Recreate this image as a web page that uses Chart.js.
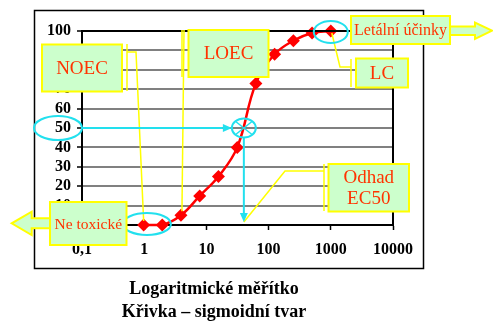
<!DOCTYPE html>
<html><head><meta charset="utf-8">
<script src="https://cdn.jsdelivr.net/npm/chart.js@4"></script>
<style>html,body{margin:0;padding:0;background:#fff;}canvas{display:block}</style>
</head><body>
<canvas id="c" width="493" height="321"></canvas>
<script>
// ---- data ----
const concentrations = [0.98, 1.95, 3.9, 7.8, 15.6, 31.3, 62.5, 125, 250, 500, 1000];
const effectPct      = [0, 0, 5, 15, 25, 40, 73, 88, 95, 99, 100];
const xTickValues = [0.1, 1, 10, 100, 1000, 10000];
const xTickLabels = ['0,1', '1', '10', '100', '1000', '10000'];
const yTickValues = [0, 10, 20, 30, 40, 50, 60, 70, 80, 90, 100];
const titleLines = ['Logaritmické měřítko', 'Křivka – sigmoidní tvar'];
const ec50Estimate = { x: 40, y: 50 };
const labelNOEC = 'NOEC', labelLOEC = 'LOEC', labelLC = 'LC', labelLethal = 'Letální účinky';
const labelNonToxic = 'Ne toxické', labelEC50 = ['Odhad', 'EC50'];

// ---- styles ----
const SERIF = "'Liberation Serif', 'DejaVu Serif', serif";
const RED = '#FF0000', TXT = '#FF3300', CYAN = '#22E0EE', YEL = '#FFFF00', GREEN = '#CCFFCC';

function box(ctx, x, y, w, h, lines, size) {
  ctx.save();
  ctx.fillStyle = GREEN; ctx.fillRect(x, y, w, h);
  ctx.strokeStyle = YEL; ctx.lineWidth = 2; ctx.strokeRect(x, y, w, h);
  ctx.fillStyle = TXT; ctx.font = size + 'px ' + SERIF;
  ctx.textAlign = 'center'; ctx.textBaseline = 'middle';
  const lh = size * 1.1, n = lines.length;
  lines.forEach((t, i) => ctx.fillText(t, x + w / 2, y + h / 2 + (i - (n - 1) / 2) * lh + 1));
  ctx.restore();
}
function poly(ctx, pts, color, lw, fill) {
  ctx.save(); ctx.beginPath();
  pts.forEach((p, i) => i ? ctx.lineTo(p[0], p[1]) : ctx.moveTo(p[0], p[1]));
  if (fill) { ctx.closePath(); ctx.fillStyle = fill; ctx.fill(); }
  ctx.strokeStyle = color; ctx.lineWidth = lw; ctx.lineJoin = 'miter'; ctx.stroke(); ctx.restore();
}
function ellipse(ctx, cx, cy, rx, ry) {
  ctx.save(); ctx.beginPath(); ctx.ellipse(cx, cy, rx, ry, 0, 0, Math.PI * 2);
  ctx.strokeStyle = CYAN; ctx.lineWidth = 2; ctx.stroke(); ctx.restore();
}
function arrowLine(ctx, x1, y1, x2, y2) {
  ctx.save(); ctx.strokeStyle = CYAN; ctx.fillStyle = CYAN; ctx.lineWidth = 2;
  const a = Math.atan2(y2 - y1, x2 - x1), L = 9, W = 4;
  const bx = x2 - L * Math.cos(a), by = y2 - L * Math.sin(a);
  ctx.beginPath(); ctx.moveTo(x1, y1); ctx.lineTo(bx, by); ctx.stroke();
  ctx.beginPath(); ctx.moveTo(x2, y2);
  ctx.lineTo(bx + W * Math.sin(a), by - W * Math.cos(a));
  ctx.lineTo(bx - W * Math.sin(a), by + W * Math.cos(a));
  ctx.closePath(); ctx.fill(); ctx.restore();
}

const frame = {
  id: 'frame',
  beforeDraw(chart) {
    const ctx = chart.ctx;
    ctx.save(); ctx.fillStyle = '#fff'; ctx.fillRect(0, 0, chart.width, chart.height);
    ctx.strokeStyle = '#000'; ctx.lineWidth = 1.5; ctx.strokeRect(34.5, 10.5, 389, 258);
    ctx.fillStyle = '#000'; ctx.font = 'bold 18px ' + SERIF; ctx.textAlign = 'center'; ctx.textBaseline = 'middle';
    ctx.fillText(titleLines[0], 214, 289); ctx.fillText(titleLines[1], 214, 312);
    ctx.restore();
  },
  afterDraw(chart) {
    const { ctx, chartArea: ca, scales: { x, y } } = chart;
    poly(ctx, [[ca.left, ca.top], [ca.right, ca.top], [ca.right, ca.bottom]], '#000', 2);

    const px = i => x.getPixelForValue(concentrations[i]);
    const py = i => y.getPixelForValue(effectPct[i]);
    const last = concentrations.length - 1;
    const ex = x.getPixelForValue(ec50Estimate.x), ey = y.getPixelForValue(ec50Estimate.y);
    const y0 = y.getPixelForValue(0);

    // yellow callouts
    poly(ctx, [[127, 44], [127, 91]], YEL, 1.5);
    poly(ctx, [[127, 52], [136, 52], [px(0), py(0) - 4]], YEL, 1.5);
    poly(ctx, [[182, 30], [182, 77]], YEL, 1.5);
    poly(ctx, [[184, 30], [px(2) + 1, py(2) - 4]], YEL, 1.5);
    poly(ctx, [[351, 59], [351, 87]], YEL, 1.5);
    poly(ctx, [[351, 67], [340, 67], [px(last) + 1, py(last) + 2]], YEL, 1.5);
    poly(ctx, [[324, 164], [324, 211]], YEL, 1.5);
    poly(ctx, [[324, 171], [285, 171], [ex, y0 - 3]], YEL, 1.5);

    // cyan marks
    ellipse(ctx, px(last), py(last) + 1, 17, 11);
    ellipse(ctx, 58, ey, 24, 12);
    ellipse(ctx, (px(0) + px(1)) / 2 - 6, py(0) - 1, 24, 11);
    ellipse(ctx, ex, ey, 12, 9.5);
    ctx.save(); ctx.strokeStyle = CYAN; ctx.lineWidth = 1.5; ctx.beginPath();
    const d = Math.SQRT1_2;
    ctx.moveTo(ex - 12 * d, ey - 9.5 * d); ctx.lineTo(ex + 12 * d, ey + 9.5 * d);
    ctx.moveTo(ex + 12 * d, ey - 9.5 * d); ctx.lineTo(ex - 12 * d, ey + 9.5 * d);
    ctx.stroke(); ctx.restore();
    arrowLine(ctx, 82, ey, ex - 12, ey);
    arrowLine(ctx, ex, ey + 9.5, ex, y0 - 3);

    // block arrows
    poly(ctx, [[450, 26.5], [475, 26.5], [475, 22.5], [492, 30.7], [475, 39], [475, 35], [450, 35]], YEL, 2, GREEN);
    poly(ctx, [[50, 218.3], [31.7, 218.3], [31.7, 211.7], [11.7, 223.3], [31.7, 235], [31.7, 228.3], [50, 228.3]], YEL, 2, GREEN);

    // boxes
    box(ctx, 42, 44.5, 80, 47, [labelNOEC], 19);
    box(ctx, 188.5, 30, 80, 47, [labelLOEC], 19);
    box(ctx, 351, 16, 99, 28, [labelLethal], 16);
    box(ctx, 356, 58.5, 52, 29, [labelLC], 19);
    box(ctx, 328.5, 164, 80.5, 47.5, labelEC50, 19);
    box(ctx, 50, 202, 76.5, 43, [labelNonToxic], 15.5);
  }
};

new Chart(document.getElementById('c'), {
  type: 'line',
  data: {
    datasets: [{
      data: concentrations.map((c, i) => ({ x: c, y: effectPct[i] })),
      borderColor: RED, backgroundColor: RED, borderWidth: 2.5,
      pointStyle: 'rectRot', pointRadius: 6.5, pointBorderWidth: 0,
      pointBackgroundColor: RED, tension: 0.4, clip: false
    }]
  },
  options: {
    responsive: false, animation: false, devicePixelRatio: 1,
    layout: { padding: { left: 0, top: 31, right: 100, bottom: 0 } },
    plugins: { legend: { display: false }, tooltip: { enabled: false } },
    scales: {
      x: {
        type: 'logarithmic', min: xTickValues[0], max: xTickValues[xTickValues.length - 1],
        afterBuildTicks: s => { s.ticks = xTickValues.map(v => ({ value: v })); },
        afterFit: s => { s.height = 96; },
        grid: { drawOnChartArea: false, drawTicks: true, tickLength: 5, tickColor: '#000', tickWidth: 1.5 },
        border: { color: '#000', width: 2 },
        ticks: {
          color: '#000', font: { family: SERIF, size: 16, weight: 'bold' }, padding: 10,
          maxRotation: 0, autoSkip: false,
          callback: v => { const i = xTickValues.indexOf(v); return i >= 0 ? xTickLabels[i] : ''; }
        }
      },
      y: {
        min: 0, max: 100,
        afterBuildTicks: s => { s.ticks = yTickValues.map(v => ({ value: v })); },
        afterFit: s => { s.width = 82; },
        grid: { color: c => c.tick && c.tick.value === 100 ? '#000' : '#808080', lineWidth: 2, tickLength: 5, tickColor: '#000', tickWidth: 1.5 },
        border: { color: '#000', width: 2 },
        ticks: { color: '#000', font: { family: SERIF, size: 16, weight: 'bold' }, padding: 6, autoSkip: false }
      }
    }
  },
  plugins: [frame]
});
</script>
</body></html>
